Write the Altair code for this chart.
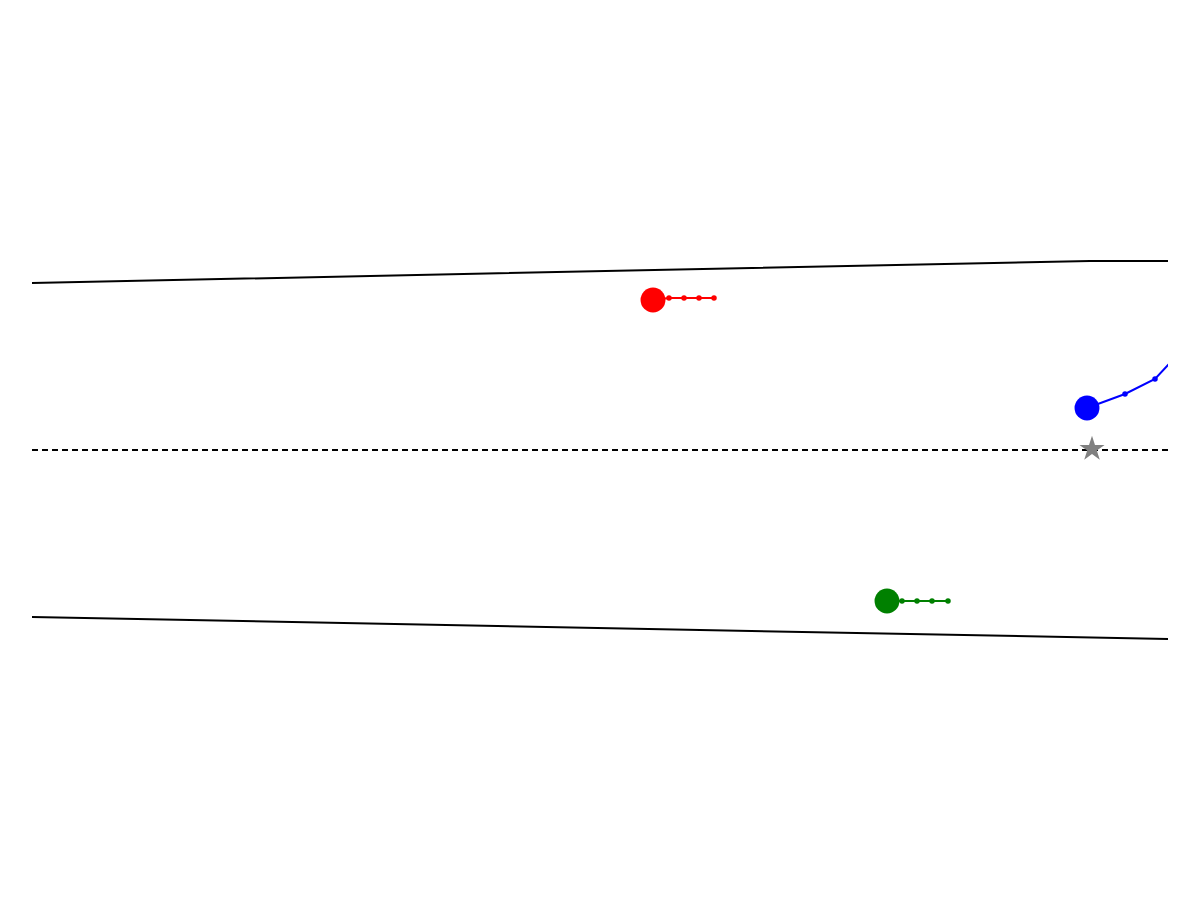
import pandas as pd
import altair as alt

# road boundaries (x, y in image-like units, y grows downward)
upper_x = [32, 1090, 1168]
upper_y = [283, 261, 261]
lower_x = [32, 1168]
lower_y = [617, 639]
center_x = [32, 1168]
center_y = [450, 450]

# vehicles: current position + predicted trail
cars = {
    "red": ([653, 669, 684, 699, 714], [300, 298, 298, 298, 298]),
    "green": ([887, 902, 917, 932, 948], [601, 601, 601, 601, 601]),
    "blue": ([1087, 1125, 1155, 1180], [408, 394, 379, 352]),
}
ego_x = [1092]
ego_y = [449]

xs = alt.Scale(domain=[32, 1168], nice=False, zero=False)
ys = alt.Scale(domain=[892, 8], nice=False, zero=False)


def line(x, y, color, dash=None, width=2.0):
    df = pd.DataFrame({"x": x, "y": y, "i": range(len(x))})
    kw = dict(color=color, strokeWidth=width, clip=True)
    if dash:
        kw["strokeDash"] = dash
    return alt.Chart(df).mark_line(**kw).encode(
        alt.X("x:Q", scale=xs, axis=None),
        alt.Y("y:Q", scale=ys, axis=None),
        order="i:Q",
    )


def points(x, y, color, size, shape="circle"):
    df = pd.DataFrame({"x": x, "y": y})
    return alt.Chart(df).mark_point(filled=True, opacity=1, color=color, size=size, shape=shape, clip=True).encode(
        alt.X("x:Q", scale=xs, axis=None),
        alt.Y("y:Q", scale=ys, axis=None),
    )


layers = [
    line(upper_x, upper_y, "black"),
    line(lower_x, lower_y, "black"),
    line(center_x, center_y, "black", dash=[6, 4]),
]
for c, (x, y) in cars.items():
    layers.append(line(x, y, c))
    layers.append(points(x[1:], y[1:], c, 30))
    layers.append(points(x[:1], y[:1], c, 620))
layers.append(points(ego_x, ego_y, "gray", 700, shape="M0,-1L0.2245,-0.309L0.951,-0.309L0.363,0.118L0.588,0.809L0,0.382L-0.588,0.809L-0.363,0.118L-0.951,-0.309L-0.2245,-0.309Z"))

chart = alt.layer(*layers).properties(
    width=1136, height=884,
    autosize=alt.AutoSizeParams(type="none"),
    padding={"left": 24, "top": 0, "right": 0, "bottom": 0},
).configure_view(stroke=None)

chart.save("out.html", embed_options={"renderer": "svg", "actions": False})
